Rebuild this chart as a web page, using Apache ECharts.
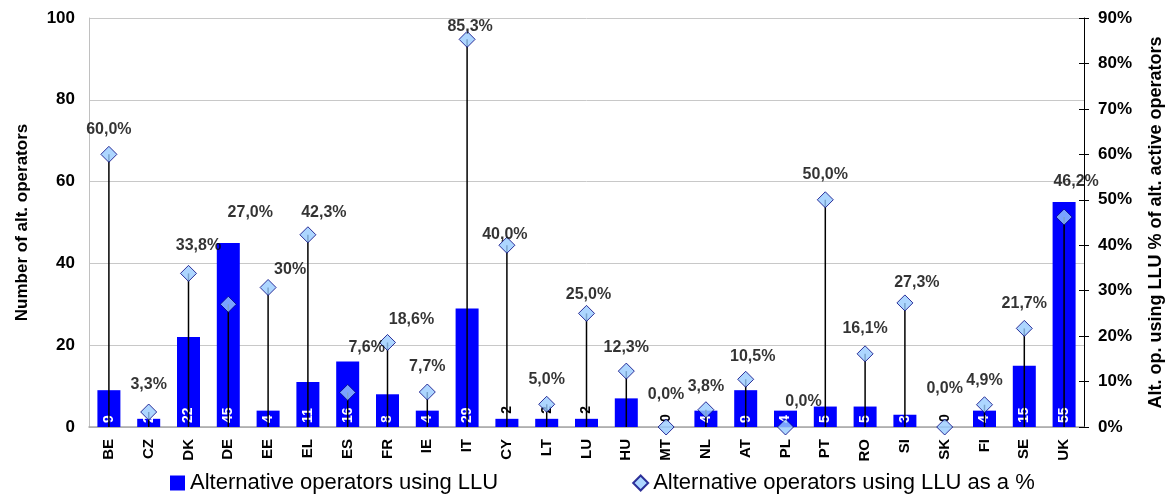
<!DOCTYPE html>
<html><head><meta charset="utf-8">
<script src="https://cdn.jsdelivr.net/npm/echarts@6/dist/echarts.min.js"></script>
<style>html,body{margin:0;padding:0;background:#fff}#c{width:1173px;height:497px}</style>
</head><body><div id="c"></div>
<script>
const categories = ['BE','CZ','DK','DE','EE','EL','ES','FR','IE','IT','CY','LT','LU','HU','MT','NL','AT','PL','PT','RO','SI','SK','FI','SE','UK'];
const operators = [9,2,22,45,4,11,16,8,4,29,2,2,2,7,0,4,9,4,5,5,3,0,4,15,55];
const lluPct = [60.0,3.3,33.8,27.0,30.7,42.3,7.6,18.6,7.7,85.3,40.0,5.0,25.0,12.3,0.0,3.8,10.5,0.0,50.0,16.1,27.3,0.0,4.9,21.7,46.2];
const pctLabels = ['60,0%','3,3%','33,8%','27,0%','30%','42,3%','7,6%','18,6%','7,7%','85,3%','40,0%','5,0%','25,0%','12,3%','0,0%','3,8%','10,5%','0,0%','50,0%','16,1%','27,3%','0,0%','4,9%','21,7%','46,2%'];
const leftAxis = {min: 0, max: 100, interval: 20};
const rightAxis = {min: 0, max: 90, interval: 10};
const seriesNames = ['Alternative operators using LLU', 'Alternative operators using LLU as a %'];

// label placement (layout only)
const pctLabelOffsets = [[0,-25],[0,-27],[10,-28],[22,-92],[22,-18],[16,-22],[19,-45],[24,-23],[0,-25],[3,-13],[-2,-11],[0,-25],[2,-19],[0,-24],[0,-32],[0,-23],[7,-23],[18,-25],[0,-25],[0,-25],[12,-20],[0,-38],[0,-24],[0,-25],[12,-35]];
const barLabelAbove = new Set(['CY','LT','LU','MT','SK']);
const barLabelHidden = new Set(['HU']);

const FONT = '"Liberation Sans", Arial, sans-serif';
const chart = echarts.init(document.getElementById('c'), null, {renderer: 'canvas'});

const barData = operators.map((v, i) => {
  const c = categories[i];
  const item = {value: v};
  if (barLabelHidden.has(c)) item.label = {show: false};
  else if (barLabelAbove.has(c)) item.label = {position: 'top', color: '#000', distance: 5};
  return item;
});

const scatterData = lluPct.map((v, i) => ({
  value: v,
  label: {offset: pctLabelOffsets[i]}
}));

chart.setOption({
  animation: false,
  textStyle: {fontFamily: FONT},
  grid: {left: 89, right: 85, top: 18, bottom: 70, containLabel: false},
  legend: {
    left: 165, top: 467, itemGap: 134, itemWidth: 15, itemHeight: 15,
    textStyle: {fontFamily: FONT, fontSize: 22, color: '#000'},
    data: [{name: seriesNames[0], icon: 'rect'}, {name: seriesNames[1], icon: 'diamond'}]
  },
  xAxis: {
    type: 'category', data: categories, boundaryGap: true,
    axisLine: {lineStyle: {color: '#a6a6a6', width: 1.5}},
    axisTick: {show: false},
    axisLabel: {rotate: 90, margin: 12, fontFamily: FONT, fontWeight: 'bold', fontSize: 15, color: '#000', interval: 0}
  },
  yAxis: [
    {
      type: 'value', min: leftAxis.min, max: leftAxis.max, interval: leftAxis.interval, position: 'left',
      name: 'Number of alt. operators', nameLocation: 'middle', nameGap: 58, nameRotate: 90,
      nameTextStyle: {fontFamily: FONT, fontWeight: 'bold', fontSize: 17, color: '#000'},
      axisLine: {show: true, lineStyle: {color: '#c0c0c0'}},
      axisTick: {show: false},
      splitLine: {lineStyle: {color: '#c8c8c8', width: 1}},
      axisLabel: {margin: 14, fontFamily: FONT, fontWeight: 'bold', fontSize: 17, color: '#000'}
    },
    {
      type: 'value', min: rightAxis.min, max: rightAxis.max, interval: rightAxis.interval, position: 'right',
      name: 'Alt. op. using LLU % of alt. active operators', nameLocation: 'middle', nameGap: 63, nameRotate: 90,
      nameTextStyle: {fontFamily: FONT, fontWeight: 'bold', fontSize: 18, color: '#000'},
      axisLine: {show: true, lineStyle: {color: '#000', width: 1}},
      axisTick: {show: true, inside: false, length: 5, lineStyle: {color: '#000'}},
      splitLine: {show: false},
      axisLabel: {margin: 14, formatter: '{value}%', fontFamily: FONT, fontWeight: 'bold', fontSize: 17, color: '#000'}
    },
    {
      type: 'value', min: rightAxis.min, max: rightAxis.max, interval: rightAxis.interval, position: 'right',
      axisLine: {show: false},
      axisTick: {show: true, inside: true, length: 5, lineStyle: {color: '#000'}},
      splitLine: {show: false},
      axisLabel: {show: false}
    }
  ],
  series: [
    {
      name: seriesNames[0], type: 'bar', yAxisIndex: 0, barWidth: 23,
      itemStyle: {color: '#0000ff'},
      label: {show: true, position: 'insideBottom', rotate: 90, align: 'left', verticalAlign: 'middle', distance: 4,
        color: '#fff', fontFamily: FONT, fontWeight: 'bold', fontSize: 14},
      data: barData, z: 2
    },
    {
      type: 'custom', yAxisIndex: 1, silent: true, z: 3,
      renderItem: (params, api) => {
        const x = api.value(0), v = api.value(1);
        const p0 = api.coord([x, 0]), p1 = api.coord([x, v]);
        return {type: 'line', shape: {x1: p0[0], y1: p0[1], x2: p1[0], y2: p1[1]}, style: {stroke: '#000', lineWidth: 1.5}};
      },
      data: lluPct.map((v, i) => [i, v])
    },
    {
      name: seriesNames[1], type: 'scatter', yAxisIndex: 1, symbol: 'diamond', symbolSize: 16, z: 4,
      itemStyle: {color: '#99ccff', borderColor: '#000080', borderWidth: 1},
      label: {show: true, position: 'inside', formatter: p => pctLabels[p.dataIndex],
        color: '#000', textBorderWidth: 0, fontFamily: FONT, fontWeight: 'bold', fontSize: 16},
      data: scatterData
    }
  ]
});
</script></body></html>
